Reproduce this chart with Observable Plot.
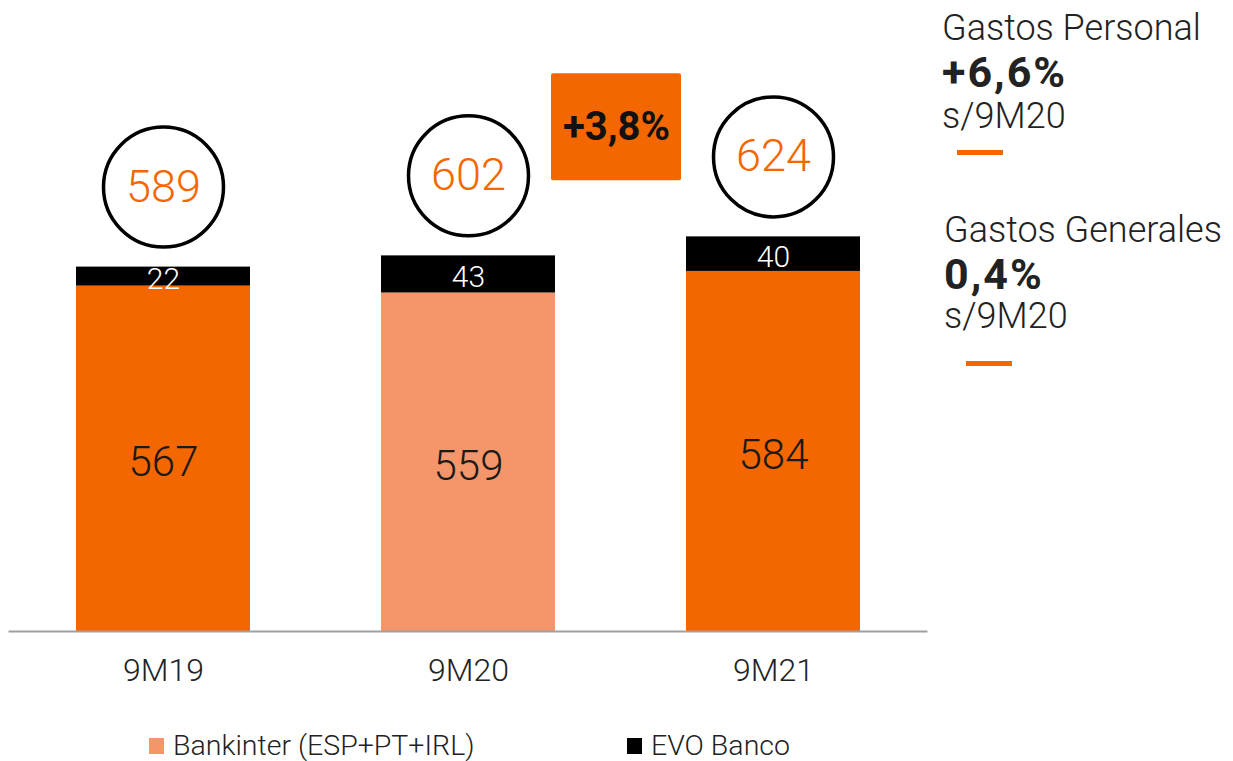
<!DOCTYPE html>
<html>
<head>
<meta charset="utf-8">
<script src="https://cdn.jsdelivr.net/npm/d3@7"></script>
<script src="https://cdn.jsdelivr.net/npm/@observablehq/plot@0.6"></script>
<style>
  html, body { margin: 0; padding: 0; background: #fff; }
  body { font-family: Roboto, "Open Sans", sans-serif; font-weight: 300; color: #222; }
  #wrap { position: relative; width: 1233px; height: 761px; overflow: hidden; }
  #chart { position: absolute; left: 0; top: 0; }
  .side { position: absolute; left: 942px; line-height: 1; white-space: nowrap; color: #222; }
  .reg { font-size: 36px; font-weight: 300; }
  .bold { font-size: 43px; font-weight: 700; letter-spacing: 2px; }
  .dash { position: absolute; height: 5px; width: 46px; background: #f46600; }
  #legend { position: absolute; top: 732px; left: 0; width: 1233px; font-size: 28.5px; font-weight: 300; line-height: 1; }
  .li { position: absolute; display: flex; align-items: center; white-space: nowrap; }
  .sw { width: 15px; height: 16px; margin-right: 9px; }
</style>
</head>
<body>
<div id="wrap">
  <div id="chart"></div>
  <div class="side reg" style="top:10px;">Gastos Personal</div>
  <div class="side bold" style="top:51px;">+6,6%</div>
  <div class="side reg" style="top:98px;">s/9M20</div>
  <div class="dash" style="left:957px; top:150px;"></div>
  <div class="side reg" style="top:212px; left:944px;">Gastos Generales</div>
  <div class="side bold" style="top:253px; left:944px;">0,4%</div>
  <div class="side reg" style="top:298px; left:944px;">s/9M20</div>
  <div class="dash" style="left:966px; top:361px;"></div>
  <div id="legend"></div>
</div>
<script>
// ---- data ----
const categories = ["9M19", "9M20", "9M21"];
const bankinter = [567, 559, 584];
const evo = [22, 43, 40];
const totals = [589, 602, 624];
const seriesNames = ["Bankinter (ESP+PT+IRL)", "EVO Banco"];
const growthLabel = ["+3,8%"];
const growthFrom = ["9M20"];
const growthBox = [689, 813]; // value range of annotation box
const yDomain = [167, 885];    // truncated value axis of the original

// ---- styles ----
const ORANGE = "#f46600";
const LIGHT = "#f4956a";
const BLACK = "#000000";
const highlight = "9M20";

const rows = [];
categories.forEach((c, i) => {
  rows.push({cat: c, series: seriesNames[0], value: bankinter[i]});
  rows.push({cat: c, series: seriesNames[1], value: evo[i]});
});
const bankRows = categories.map((c, i) => ({cat: c, value: bankinter[i]}));
const totalRows = categories.map((c, i) => ({cat: c, total: totals[i]}));
const growthRows = growthFrom.map((c, i) => ({cat: c, label: growthLabel[i], y1: growthBox[0], y2: growthBox[1]}));

const barFill = d => d.series === seriesNames[1] ? BLACK : (d.cat === highlight ? LIGHT : ORANGE);

const chart = Plot.plot({
  width: 1233,
  height: 715,
  marginLeft: 9,
  marginRight: 307,
  marginTop: 11,
  marginBottom: 84,
  style: {fontFamily: "Roboto, 'Open Sans', sans-serif", background: "transparent"},
  x: {domain: categories, paddingInner: 0.43, paddingOuter: 0.215, label: null},
  y: {domain: yDomain, axis: null},
  color: {type: "identity"},
  marks: [
    Plot.barY(rows, {x: "cat", y: "value", fill: barFill, clip: true}),
    Plot.frame({anchor: "bottom", stroke: "#a0a0a0", strokeWidth: 2}),
    Plot.axisX({tickSize: 0, tickPadding: 27, fontSize: 32, fontWeight: 300, fill: "#222", label: null}),
    // Bankinter labels centred in the visible part of the segment
    Plot.text(bankRows, {
      x: "cat", y: d => (yDomain[0] + d.value) / 2,
      text: d => String(d.value),
      fill: "#1a1a1a", fontSize: 42, fontWeight: 300, dy: 4
    }),
    Plot.text(rows, Plot.stackY({
      x: "cat", y: "value",
      text: d => d.series === seriesNames[1] ? String(d.value) : null,
      fill: "#ffffff", fontSize: 30, fontWeight: 300, dy: 3
    })),
    Plot.dot(totalRows, {x: "cat", y: "total", dy: -80, r: 60, stroke: "#000", strokeWidth: 3.5, fill: "white"}),
    Plot.text(totalRows, {x: "cat", y: "total", dy: -80, text: d => String(d.total), fill: ORANGE, fontSize: 45, fontWeight: 300}),
    Plot.barY(growthRows, {x: "cat", y1: "y1", y2: "y2", dx: 148, insetLeft: 22, insetRight: 22, fill: ORANGE, rx: 2}),
    Plot.text(growthRows, {x: "cat", y: d => (d.y1 + d.y2) / 2, dx: 148, text: "label", fill: "#111", fontSize: 40, fontWeight: 700, letterSpacing: 1.5})
  ]
});
document.getElementById("chart").appendChild(chart);

// legend
const legend = document.getElementById("legend");
const legendItems = [
  {name: seriesNames[0], color: LIGHT, left: 149},
  {name: seriesNames[1], color: BLACK, left: 627}
];
legendItems.forEach(it => {
  const el = document.createElement("div");
  el.className = "li";
  el.style.left = it.left + "px";
  el.innerHTML = `<span class="sw" style="background:${it.color}"></span><span>${it.name}</span>`;
  legend.appendChild(el);
});
</script>
</body>
</html>
